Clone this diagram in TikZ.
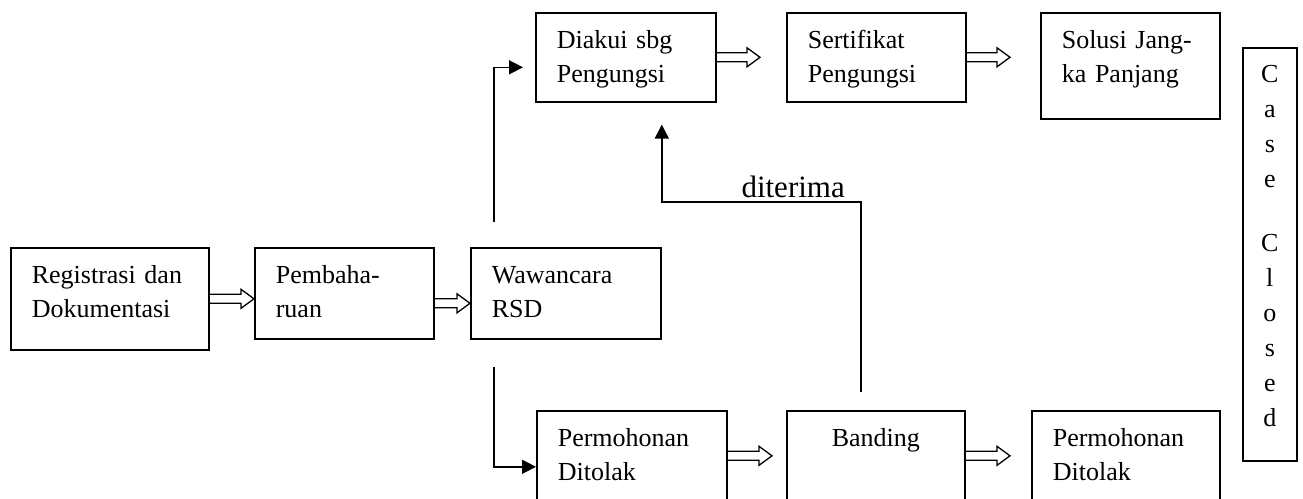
\documentclass[tikz,border=0pt]{standalone}
\usepackage{fontspec}
\setmainfont{Liberation Serif}
\usetikzlibrary{arrows.meta,calc}
\begin{document}
\begin{tikzpicture}[x=1pt,y=1pt]
\tikzstyle{box} = [draw, line width=1.6pt, anchor=north west, align=left, inner xsep=21pt, inner ysep=0pt, text height=36pt, font=\fontsize{26}{34}\selectfont]
\tikzstyle{arrow} = [line width=1.5pt, -{Triangle[length=14pt,width=14pt]}]
\tikzstyle{hollow} = [line width=1.3pt, to path={let \p1=(\tikztostart), \p2=(\tikztotarget) in (\x1,\y1+4.5pt) -- (\x2-13pt,\y1+4.5pt) -- (\x2-13pt,\y1+9.5pt) -- (\x2,\y1) -- (\x2-13pt,\y1-9.5pt) -- (\x2-13pt,\y1-4.5pt) -- (\x1,\y1-4.5pt)}]
\useasboundingbox (0,0) rectangle (1303,-498);

% Nodes
\node (reg) [box, text width=156pt, text depth=66pt] at (10,-247) {Registrasi dan\\Dokumentasi};
\node (pem) [box, text width=137pt, text depth=55pt] at (254,-247) {Pembaha-\\ruan};
\node (waw) [box, text width=148pt, text depth=55pt] at (470,-247) {Wawancara\\RSD};
\node (dia) [box, text width=138pt, text depth=53pt] at (535,-12) {Diakui sbg\\Pengungsi};
\node (ser) [box, text width=137pt, text depth=53pt] at (786,-12) {Sertifikat\\Pengungsi};
\node (sol) [box, text width=137pt, text depth=70pt] at (1040,-12) {Solusi Jang-\\ka Panjang};
\node (tolak1) [box, text width=148pt, text depth=54pt] at (536,-410) {Permohonan\\Ditolak};
\node (banding) [box, align=center, text width=136pt, text depth=54pt] at (786,-410) {Banding};
\node (tolak2) [box, text width=146pt, text depth=54pt] at (1031,-410) {Permohonan\\Ditolak};
\node (closed) [box, align=center, inner xsep=0pt, text width=54pt, text height=35pt, text depth=378pt, font=\fontsize{26}{35}\selectfont] at (1242,-47) {C\\a\\s\\e\\[29pt]C\\l\\o\\s\\e\\d};

% Arrows
\draw [hollow] (reg.east) to (pem.west);
\draw [hollow] ([yshift=-10pt]pem.east) to (waw.west);
\draw [hollow] (dia.east) to ([xshift=-26pt]ser.west);
\draw [hollow] (ser.east) to ([xshift=-30pt]sol.west);
\draw [hollow] (tolak1.east) to ([xshift=-14pt]banding.west);
\draw [hollow] (banding.east) to ([xshift=-21pt]tolak2.west);

\draw [arrow] ([shift={(24,25)}]waw.north west) |- ([shift={(-12,-10)}]dia.west);
\draw [arrow] ([shift={(24,-27)}]waw.south west) |- ([yshift=-11pt]tolak1.west);
\draw [arrow] ([shift={(-15,18)}]banding.north) -- ++(0,190) -| node[pos=0.17, above, font=\fontsize{31}{36}\selectfont] {diterima} ([shift={(36,-22)}]dia.south);

\end{tikzpicture}
\end{document}
